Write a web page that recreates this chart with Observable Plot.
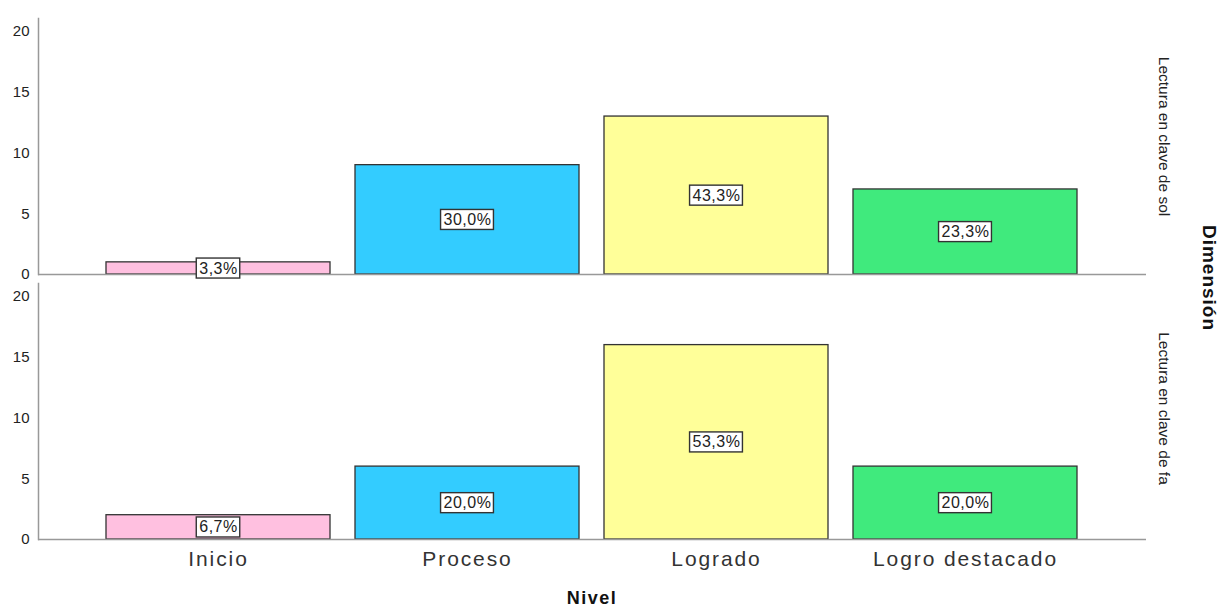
<!DOCTYPE html>
<html>
<head>
<meta charset="utf-8">
<script src="https://cdn.jsdelivr.net/npm/d3@7"></script>
<script src="https://cdn.jsdelivr.net/npm/@observablehq/plot@0.6"></script>
<style>
  html, body { margin: 0; padding: 0; background: #fff; }
  #chart svg { display: block; }
</style>
</head>
<body>
<div id="chart"></div>
<script>
const niveles = ["Inicio", "Proceso", "Logrado", "Logro destacado"];
const dimensiones = ["Lectura en clave de sol", "Lectura en clave de fa"];
const conteoSol = [1, 9, 13, 7];
const conteoFa = [2, 6, 16, 6];
const porcentajeSol = ["3,3%", "30,0%", "43,3%", "23,3%"];
const porcentajeFa = ["6,7%", "20,0%", "53,3%", "20,0%"];
const colores = ["#FFC0E0", "#33CCFF", "#FFFF99", "#40EA7D"];
const yTicks = [0, 5, 10, 15, 20];

const data = [];
niveles.forEach((nv, i) => {
  data.push({dim: dimensiones[0], nivel: nv, n: conteoSol[i], pct: porcentajeSol[i]});
  data.push({dim: dimensiones[1], nivel: nv, n: conteoFa[i], pct: porcentajeFa[i]});
});

const font = "'Liberation Sans', Arial, sans-serif";

const chart = Plot.plot({
  width: 1222,
  height: 610,
  marginLeft: 38,
  marginRight: 76,
  marginTop: 17,
  marginBottom: 71,
  style: {fontFamily: font, background: "#fff", color: "#222"},
  x: {domain: niveles, paddingInner: 0.1, paddingOuter: 0.273, label: null},
  y: {domain: [0, 21.07], label: null},
  fy: {domain: dimensiones, paddingInner: 0.034, paddingOuter: 0, axis: null, label: null},
  color: {domain: niveles, range: colores},
  marks: [
    Plot.barY(data, {x: "nivel", y: "n", fy: "dim", fill: "nivel", stroke: "#333", strokeWidth: 1.3}),
    Plot.ruleY([0], {stroke: "#999", strokeWidth: 1.3}),
    Plot.frame({anchor: "left", stroke: "#999", strokeWidth: 1.5}),
    Plot.axisY({ticks: yTicks, tickSize: 0, tickPadding: 9, fontSize: 15, label: null, fill: "#222"}),
    Plot.axisX({tickSize: 0, tickPadding: 12, fontSize: 21, label: null, fill: "#333", className: "xlab"}),
    Plot.text(data, {x: "nivel", y: d => d.n / 2, fy: "dim", text: "pct", fontSize: 16, fill: "#222", className: "pct-label"}),
    Plot.text([dimensiones[0]], {fy: d => d, text: d => d, frameAnchor: "right", rotate: 90, dx: 17, dy: -10, textAnchor: "middle", fontSize: 15.5, fill: "#222"}),
    Plot.text([dimensiones[1]], {fy: d => d, text: d => d, frameAnchor: "right", rotate: 90, dx: 17, dy: -3, textAnchor: "middle", fontSize: 15.5, fill: "#222"})
  ]
});

document.getElementById("chart").append(chart);

const svg = d3.select(chart.tagName.toLowerCase() === "svg" ? chart : chart.querySelector("svg"));

// wider tracking on the category labels
svg.selectAll("[aria-label='x-axis tick label'] text, .xlab text").attr("letter-spacing", "1.9px");
svg.selectAll(".pct-label text").attr("letter-spacing", "0.5px");

// white boxes behind the percentage labels
svg.selectAll(".pct-label text").each(function () {
  const b = this.getBBox();
  const t = this.getAttribute("transform");
  const r = document.createElementNS("http://www.w3.org/2000/svg", "rect");
  r.setAttribute("x", b.x - 3);
  r.setAttribute("y", b.y - 1.5);
  r.setAttribute("width", b.width + 5);
  r.setAttribute("height", b.height + 3);
  r.setAttribute("fill", "#fff");
  r.setAttribute("stroke", "#333");
  r.setAttribute("stroke-width", "1.4");
  if (t) r.setAttribute("transform", t);
  this.parentNode.insertBefore(r, this);
});

// axis titles
svg.append("text")
  .attr("x", 592).attr("y", 604)
  .attr("text-anchor", "middle")
  .attr("font-family", font).attr("font-size", 18).attr("font-weight", "bold")
  .attr("letter-spacing", "1.5px")
  .attr("fill", "#111")
  .text("Nivel");

svg.append("text")
  .attr("transform", "translate(1210,278) rotate(90)")
  .attr("dy", "0.35em")
  .attr("text-anchor", "middle")
  .attr("font-family", font).attr("font-size", 19).attr("font-weight", "bold")
  .attr("letter-spacing", "1px")
  .attr("fill", "#111")
  .text("Dimensión");
</script>
</body>
</html>
